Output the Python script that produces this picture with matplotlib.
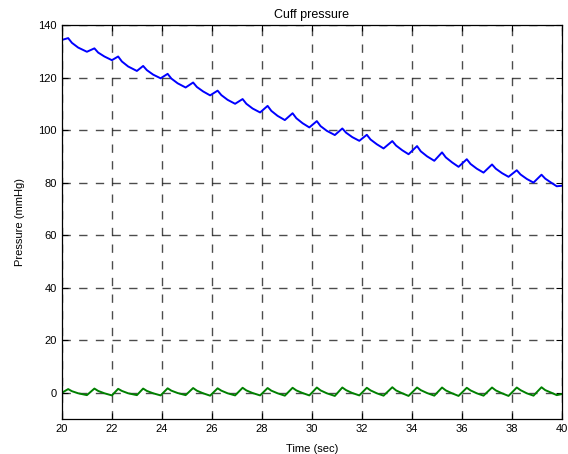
import numpy as np
import matplotlib
matplotlib.use('Agg')
from matplotlib import pyplot as pl

###############################################################################
# key points (peak -> quick drop -> decay -> trough per beat)
t_pts = [20.00,
         20.25, 20.40, 20.65, 21.00,
         21.30, 21.45, 21.70, 22.00,
         22.25, 22.40, 22.65, 23.00,
         23.25, 23.40, 23.65, 23.95,
         24.23, 24.38, 24.63, 24.95,
         25.25, 25.40, 25.65, 25.93,
         26.23, 26.38, 26.63, 26.93,
         27.23, 27.38, 27.63, 27.93,
         28.23, 28.38, 28.63, 28.92,
         29.23, 29.38, 29.63, 29.90,
         30.20, 30.35, 30.60, 30.92,
         31.22, 31.37, 31.62, 31.90,
         32.20, 32.35, 32.60, 32.87,
         33.22, 33.37, 33.62, 33.87,
         34.21, 34.36, 34.61, 34.90,
         35.21, 35.36, 35.61, 35.87,
         36.20, 36.35, 36.60, 36.87,
         37.21, 37.36, 37.61, 37.87,
         38.20, 38.35, 38.60, 38.87,
         39.19, 39.34, 39.59, 39.80, 40.00]

cuff = [134.3,
        135.0, 133.2, 131.4, 129.8,
        131.1, 129.5, 128.0, 126.6,
        128.0, 126.1, 124.2, 122.5,
        124.4, 122.8, 121.1, 119.7,
        121.4, 119.6, 117.8, 116.2,
        118.1, 116.4, 114.7, 113.2,
        115.0, 113.3, 111.5, 110.0,
        111.8, 110.0, 108.2, 106.7,
        109.2, 107.3, 105.4, 103.8,
        106.4, 104.5, 102.6, 101.0,
        103.4, 101.5, 99.7, 98.1,
        100.6, 99.0, 97.3, 95.9,
        98.2, 96.4, 94.6, 93.0,
        95.8, 94.1, 92.3, 90.8,
        93.9, 91.9, 90.0, 88.3,
        91.5, 89.6, 87.7, 86.0,
        88.9, 87.1, 85.3, 83.8,
        86.9, 85.3, 83.6, 82.2,
        84.7, 83.1, 81.4, 80.0,
        83.0, 81.5, 79.9, 78.6, 78.8]

osc = [0.0,
       1.4, 0.6, -0.2, -0.9,
       1.6, 0.7, -0.2, -1.0,
       1.5, 0.7, -0.2, -0.9,
       1.6, 0.7, -0.2, -1.0,
       1.7, 0.8, -0.1, -0.9,
       1.8, 0.8, -0.2, -1.1,
       1.7, 0.8, -0.2, -1.0,
       1.9, 0.9, -0.1, -1.0,
       1.8, 0.8, -0.2, -1.1,
       1.9, 0.9, -0.1, -1.0,
       2.0, 0.9, -0.2, -1.2,
       2.0, 1.0, -0.1, -1.0,
       1.9, 0.9, -0.2, -1.1,
       2.1, 0.9, -0.2, -1.2,
       2.0, 1.0, -0.1, -1.1,
       2.0, 0.9, -0.2, -1.2,
       1.9, 0.9, -0.2, -1.1,
       2.0, 0.9, -0.2, -1.2,
       2.0, 1.0, -0.2, -1.1,
       2.1, 1.0, 0.0, -0.9, -0.5]

xticks = np.arange(20, 41, 2)
yticks = np.arange(0, 141, 20)

###############################################################################
pl.rcParams['font.family'] = ['Liberation Sans', 'DejaVu Sans']
pl.rcParams['font.size'] = 8

fig = pl.figure(figsize=(5.68, 4.54), dpi=100)
ax = fig.add_axes([0.109, 0.077, 0.880, 0.868])

ax.plot(t_pts, cuff, color=(0, 0, 1), linewidth=1.4, solid_joinstyle='round')
ax.plot(t_pts, osc, color=(0, 0.5, 0), linewidth=1.4, solid_joinstyle='round')

ax.set_xlim(20, 40)
ax.set_ylim(-10, 140)
ax.set_xticks(xticks)
ax.set_yticks(yticks)
ax.grid(True, color='k', linestyle=(0, (6, 6)), linewidth=1.0, alpha=0.7)
ax.tick_params(direction='in', top=True, right=True, length=4, width=0.8,
               labelsize=8)
for sp in ax.spines.values():
    sp.set_linewidth(0.9)

ax.set_title('Cuff pressure', fontsize=9, pad=5)
ax.set_xlabel('Time (sec)', fontsize=8, labelpad=7)
ax.set_ylabel('Pressure (mmHg)', fontsize=8, labelpad=10)

fig.savefig('out.png', dpi=100)
